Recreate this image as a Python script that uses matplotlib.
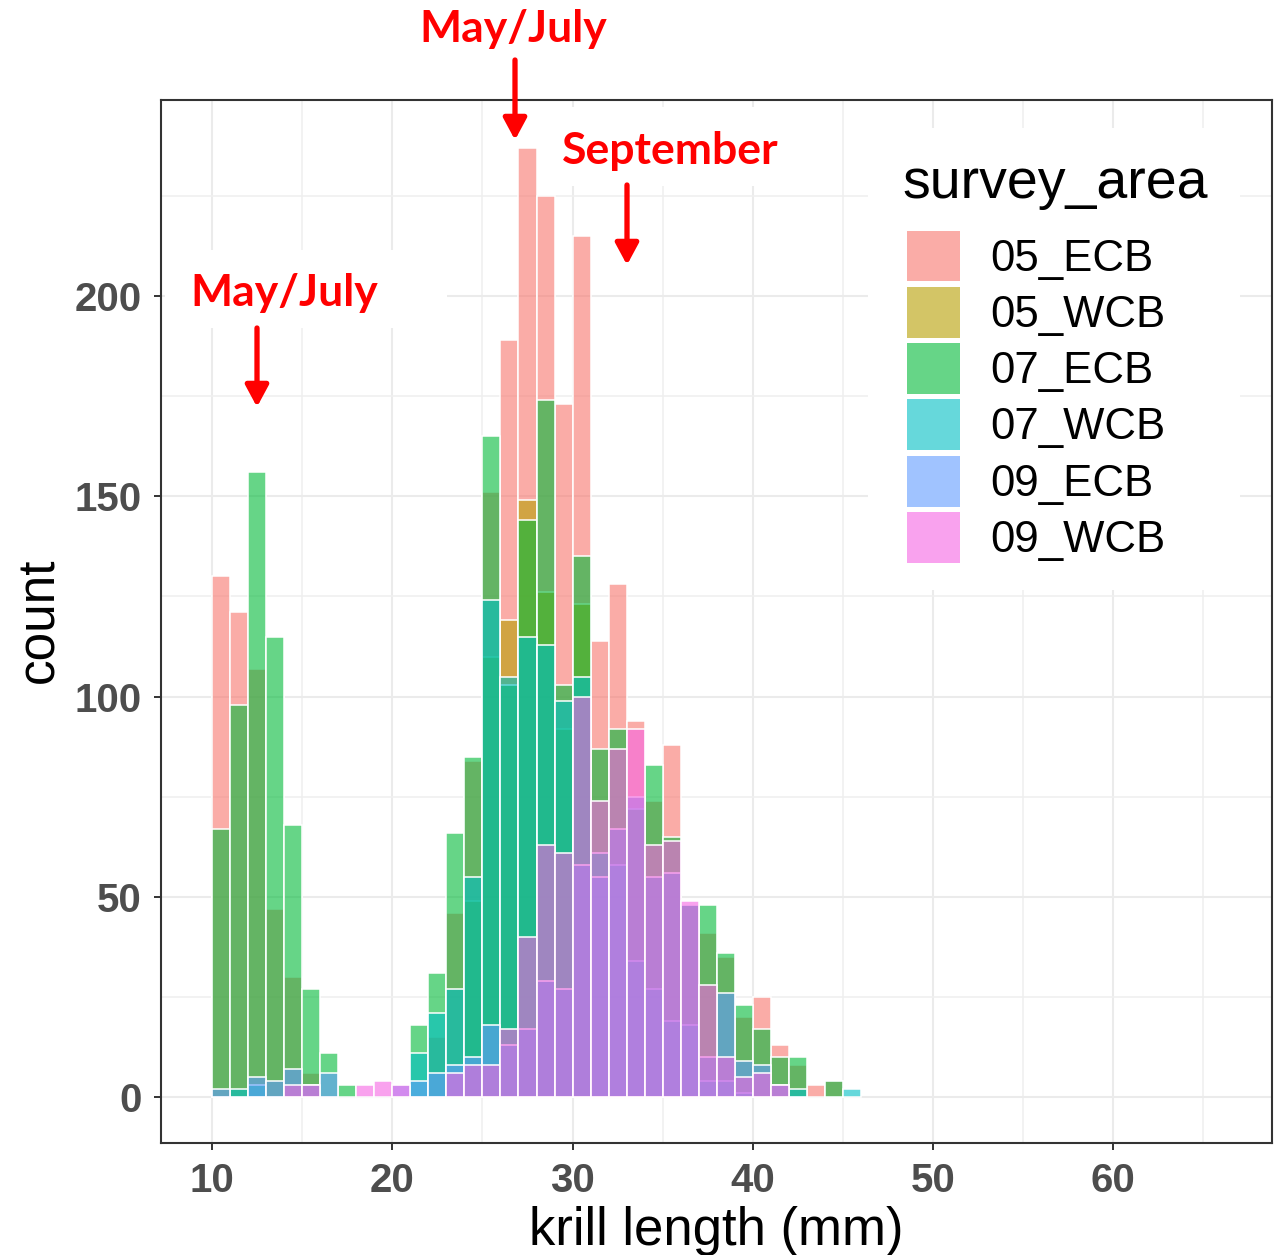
import matplotlib
matplotlib.use('Agg')
import matplotlib.pyplot as plt
from matplotlib.patches import Patch, Rectangle, FancyArrowPatch
from matplotlib.colors import to_rgba

# ---------------- data ----------------
bin_left = list(range(10, 46))          # 1 mm bins: [10,11), ..., [45,46)
groups = ['05_ECB', '05_WCB', '07_ECB', '07_WCB', '09_ECB', '09_WCB']
colors = ['#F8766D', '#B79F00', '#00BA38', '#00BFC4', '#619CFF', '#F564E3']

c05_ECB = [130, 121, 107, 47, 30, 6, 0, 0, 0, 0, 0, 0, 15, 46, 84, 151, 189, 237,
           225, 173, 215, 114, 128, 94, 74, 88, 48, 41, 35, 20, 25, 13, 8, 3, 4, 0]
c05_WCB = [0, 0, 0, 0, 0, 0, 0, 0, 0, 0, 0, 0, 0, 0, 49, 110, 119, 149,
           126, 92, 123, 0, 0, 0, 0, 0, 0, 0, 0, 0, 0, 0, 0, 0, 0, 0]
c07_ECB = [67, 98, 156, 115, 68, 27, 11, 3, 0, 0, 0, 18, 31, 66, 85, 165, 103, 144,
           174, 103, 135, 87, 92, 72, 83, 65, 48, 48, 36, 23, 17, 10, 10, 0, 4, 0]
c07_WCB = [0, 2, 3, 0, 0, 0, 0, 0, 0, 0, 0, 11, 21, 27, 55, 124, 105, 115,
           113, 99, 105, 61, 58, 34, 27, 19, 18, 4, 4, 1, 0, 0, 2, 0, 0, 2]
c09_ECB = [2, 0, 5, 4, 7, 3, 6, 0, 0, 0, 3, 4, 6, 8, 10, 18, 13, 17,
           29, 27, 58, 55, 67, 75, 55, 56, 48, 10, 26, 9, 8, 3, 0, 0, 0, 0]
c09_WCB = [0, 0, 0, 0, 3, 3, 0, 0, 3, 4, 3, 0, 0, 6, 8, 8, 17, 40,
           63, 61, 100, 74, 87, 92, 63, 64, 49, 28, 10, 5, 6, 3, 0, 0, 0, 0]
series = [c05_ECB, c05_WCB, c07_ECB, c07_WCB, c09_ECB, c09_WCB]

x_major = [10, 20, 30, 40, 50, 60]
x_minor = [15, 25, 35, 45, 55, 65]
y_major = [0, 50, 100, 150, 200]
y_minor = [25, 75, 125, 175, 225]

# ---------------- figure ----------------
W, H = 1286, 1255
fig = plt.figure(figsize=(W / 100, H / 100), dpi=100)
fig.patch.set_facecolor('white')

def fx(px):
    return px / W

def fy(py):
    return 1 - py / H

ax = fig.add_axes([fx(161), fy(1143), (1272 - 161) / W, (1143 - 100) / H])
ax.set_facecolor('white')

for vals, col in zip(series, colors):
    xs = [b for b, v in zip(bin_left, vals) if v > 0]
    hs = [v for v in vals if v > 0]
    ax.bar(xs, hs, width=1.0, align='edge', facecolor=to_rgba(col, 0.6),
           edgecolor='white', linewidth=1.1, zorder=3)

ax.set_xlim(7.17, 68.8)
ax.set_ylim(-11.5, 249)

ax.set_xticks(x_major)
ax.set_xticks(x_minor, minor=True)
ax.set_yticks(y_major)
ax.set_yticks(y_minor, minor=True)
ax.grid(which='major', color='#EBEBEB', linewidth=1.5, zorder=0)
ax.grid(which='minor', color='#EFEFEF', linewidth=1.1, zorder=0)
ax.set_axisbelow(True)

for s in ax.spines.values():
    s.set_color('#333333')
    s.set_linewidth(1.5)

ax.tick_params(which='minor', length=0)
ax.tick_params(which='major', length=5, width=1.4, color='#333333',
               labelsize=29, labelcolor='#4D4D4D', pad=9)
for lbl in ax.get_xticklabels() + ax.get_yticklabels():
    lbl.set_fontweight('bold')
    lbl.set_family('Liberation Sans')

fig.text(fx(716), fy(1231), 'krill length (mm)', fontsize=38,
         family='Liberation Sans', ha='center', va='center', color='black')
fig.text(fx(40), fy(620), 'count', fontsize=37, rotation=90,
         family='Liberation Sans', ha='center', va='center', color='black')

# white boxes hiding gridlines behind legend and annotations
for (x0, y0, x1, y1) in [(868, 128, 1240, 590), (548, 107, 800, 186),
                         (165, 250, 447, 328)]:
    ax.add_patch(Rectangle((fx(x0), fy(y1)), fx(x1) - fx(x0), fy(y0) - fy(y1),
                           transform=fig.transFigure, facecolor='white',
                           edgecolor='none', zorder=1))

# legend
fig.text(fx(902), fy(184), 'survey_area', fontsize=40, family='Liberation Sans',
         ha='left', va='center', color='black', zorder=6)
handles = [Patch(facecolor=to_rgba(c, 0.6), edgecolor='none') for c in colors]
leg = ax.legend(handles, groups, loc='upper left',
                bbox_to_anchor=(fx(876), fy(200)), bbox_transform=fig.transFigure,
                prop={'family': 'Liberation Sans', 'size': 31.5},
                frameon=False, borderaxespad=0, handlelength=1.21,
                handleheight=1.41, handletextpad=0.7, labelspacing=0.125,
                borderpad=0.7)
leg.set_zorder(5)

# red annotations
ann = [('May/July', 513, 29), ('September', 670, 151), ('May/July', 284, 293)]
for txt, px, py in ann:
    fig.text(fx(px), fy(py), txt, color='#FF0000', fontsize=32, fontweight='bold',
             family='Lato', ha='center', va='center', zorder=10)

arrows = [(515, 60, 515, 140), (627, 185, 627, 265), (257, 328, 257, 407)]
for x0, y0, x1, y1 in arrows:
    a = FancyArrowPatch((fx(x0), fy(y0)), (fx(x1), fy(y1)),
                        transform=fig.transFigure,
                        arrowstyle='-|>,head_length=13,head_width=7',
                        mutation_scale=1, color='#FF0000', linewidth=3.8,
                        shrinkA=0, shrinkB=0, zorder=10)
    fig.patches.append(a)

fig.savefig('out.png', dpi=100)
